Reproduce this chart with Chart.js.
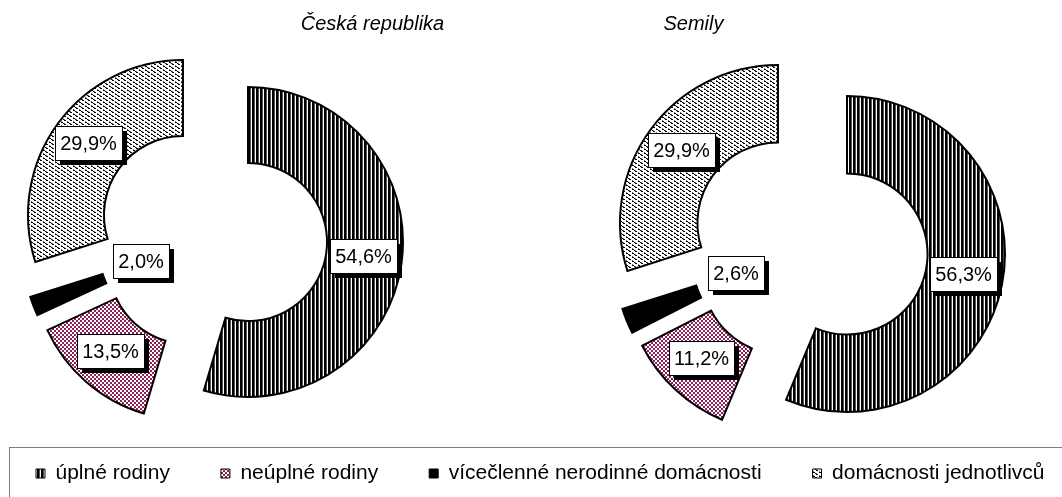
<!DOCTYPE html>
<html>
<head>
<meta charset="utf-8">
<script src="https://cdn.jsdelivr.net/npm/chart.js@4.4.0/dist/chart.umd.min.js"></script>
<style>
    html, body { margin: 0; padding: 0; background: #fff; overflow: hidden; }
    #wrap { position: relative; width: 1062px; height: 497px; overflow: hidden; }
    .pane { position: absolute; }
    #legendFrame { position: absolute; left: 9px; top: 447px; width: 1100px; height: 100px; border: 1px solid #7f7f7f; }
</style>
</head>
<body>
<div id="wrap">
    <div id="legendFrame"></div>
    <div class="pane" style="left:0;top:0;width:531px;height:447px"><canvas id="chartCR"></canvas></div>
    <div class="pane" style="left:531px;top:0;width:531px;height:447px"><canvas id="chartSemily"></canvas></div>
    <div class="pane" style="left:-15px;top:412px;width:1200px;height:100px"><canvas id="chartLegend"></canvas></div>
</div>
<script>
const categories = ['úplné rodiny', 'neúplné rodiny', 'vícečlenné nerodinné domácnosti', 'domácnosti jednotlivců'];
const crValues = [54.6, 13.5, 2.0, 29.9];
const semilyValues = [56.3, 11.2, 2.6, 29.9];
const chartTitles = ['Česká republika', 'Semily'];

Chart.defaults.font.family = '"Liberation Sans", Arial, sans-serif';
Chart.defaults.color = '#000';

// small tiles used as excel-like hatch fills
function makePattern(rows, colors) {
    const c = document.createElement('canvas');
    c.width = rows[0].length;
    c.height = rows.length;
    const g = c.getContext('2d');
    rows.forEach(function (row, y) {
        for (let x = 0; x < row.length; x++) {
            g.fillStyle = colors[row[x]];
            g.fillRect(x, y, 1, 1);
        }
    });
    return g.createPattern(c, 'repeat');
}

const fills = [
    makePattern(['KKgW'], { K: '#000', g: '#555', W: '#fff' }),
    makePattern(['MMWW', 'MMWW', 'WWMM', 'WWMM'], { M: '#8c2258', W: '#fff' }),
    '#000',
    makePattern(['KK....', '..Kg..', '...KK.', 'g.....'], { K: '#000', g: '#666', '.': '#fff' })
];

function fmtPct(v) {
    return v.toFixed(1).replace('.', ',') + '%';
}

// pulls every slice out along its middle angle (whole pixels keep the hatching sharp)
function pullOut(arc, distance) {
    const mid = (arc.startAngle + arc.endAngle) / 2;
    return { dx: Math.round(Math.cos(mid) * distance), dy: Math.round(Math.sin(mid) * distance), mid: mid };
}

const explodePlugin = {
    id: 'explode',
    beforeDatasetDraw(chart, args, opts) {
        const ctx = chart.ctx;
        args.meta.data.forEach(function (arc) {
            const p = pullOut(arc, opts.distance);
            ctx.save();
            ctx.translate(p.dx, p.dy);
            arc.draw(ctx, chart.chartArea);
            ctx.restore();
        });
        return false;
    },
    afterDatasetsDraw(chart, args, opts) {
        const ctx = chart.ctx;
        const meta = chart.getDatasetMeta(0);
        const values = chart.data.datasets[0].data;
        ctx.save();
        ctx.font = '20px "Liberation Sans", Arial, sans-serif';
        ctx.textAlign = 'center';
        ctx.textBaseline = 'middle';
        meta.data.forEach(function (arc, i) {
            const p = pullOut(arc, opts.distance);
            const share = (arc.endAngle - arc.startAngle) / (2 * Math.PI);
            // tiny slices get their label pulled into the hole
            const r = share < 0.05 ? arc.innerRadius * 0.5 : (arc.innerRadius + arc.outerRadius) / 2;
            const x = Math.round(arc.x + p.dx + Math.cos(p.mid) * r);
            const y = Math.round(arc.y + p.dy + Math.sin(p.mid) * r) - 3;
            const text = fmtPct(values[i]);
            const w = Math.round(ctx.measureText(text).width + 10);
            const h = 34;
            const left = x - Math.round(w / 2);
            const top = y - h / 2;
            ctx.fillStyle = '#000';
            ctx.fillRect(left + 5, top + 5, w, h);
            ctx.fillStyle = '#fff';
            ctx.fillRect(left, top, w, h);
            ctx.lineWidth = 1;
            ctx.strokeStyle = '#000';
            ctx.strokeRect(left + 0.5, top + 0.5, w, h);
            ctx.fillStyle = '#000';
            ctx.fillText(text, left + w / 2, y + 1);
        });
        ctx.restore();
    }
};

const captionPlugin = {
    id: 'caption',
    afterDraw(chart, args, opts) {
        const ctx = chart.ctx;
        const a = chart.chartArea;
        ctx.save();
        ctx.font = 'italic 20px "Liberation Sans", Arial, sans-serif';
        ctx.fillStyle = '#000';
        ctx.textAlign = 'center';
        ctx.textBaseline = 'alphabetic';
        ctx.fillText(opts.text, (a.left + a.right) / 2 + opts.shiftX, opts.baseline);
        ctx.restore();
    }
};

function pieOptions(title, radius, distance, padding, shiftX) {
    return {
        type: 'doughnut',
        data: {
            labels: categories,
            datasets: []
        },
        options: {
            responsive: true,
            maintainAspectRatio: false,
            animation: false,
            events: [],
            radius: radius,
            cutout: '51%',
            layout: { padding: padding },
            elements: {
                arc: { borderColor: '#000', borderWidth: 2, borderJoinStyle: 'miter' }
            },
            plugins: {
                legend: { display: false },
                tooltip: { enabled: false },
                explode: { distance: distance },
                caption: { text: title, shiftX: shiftX, baseline: 30 }
            }
        },
        plugins: [explodePlugin, captionPlugin]
    };
}

let crOpts = pieOptions(chartTitles[0], 155, 36.5, { left: 0, right: 107, top: 27, bottom: 0 }, 160.5);
crOpts.data.datasets = [{ data: crValues, backgroundColor: fills }];
new Chart(document.getElementById('chartCR'), crOpts);

let semOpts = pieOptions(chartTitles[1], 158, 38.5, { left: 25, right: 0, top: 45, bottom: 0 }, -115.5);
semOpts.data.datasets = [{ data: semilyValues, backgroundColor: fills }];
new Chart(document.getElementById('chartSemily'), semOpts);

// shared legend lives in its own strip
new Chart(document.getElementById('chartLegend'), {
    type: 'doughnut',
    data: {
        labels: categories,
        datasets: [{ data: crValues, backgroundColor: fills }]
    },
    options: {
        responsive: true,
        maintainAspectRatio: false,
        animation: false,
        events: [],
        plugins: {
            tooltip: { enabled: false },
            legend: {
                position: 'top',
                align: 'start',
                maxHeight: 120,
                labels: {
                    boxWidth: 9,
                    boxHeight: 9,
                    padding: 51,
                    color: '#000',
                    font: { size: 21 },
                    generateLabels: function () {
                        return categories.map(function (text, i) {
                            return { text: text, fillStyle: fills[i], strokeStyle: '#000', lineWidth: 1, hidden: false, index: i, fontColor: '#000' };
                        });
                    }
                }
            }
        }
    },
    plugins: [{ id: 'legendOnly', beforeDatasetsDraw: function () { return false; } }]
});
</script>
</body>
</html>
